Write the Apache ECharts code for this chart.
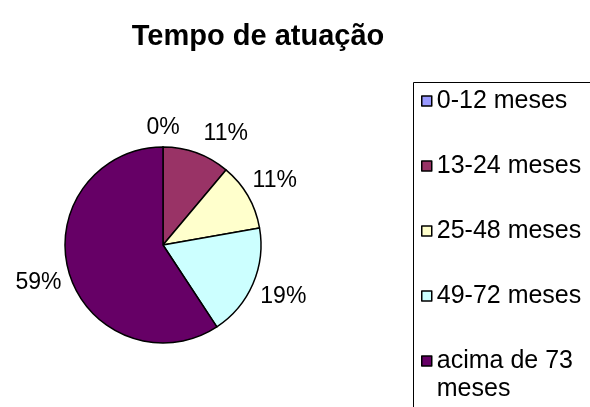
<!DOCTYPE html>
<html>
<head>
	<meta charset="utf-8">
	<title>Tempo de atuação</title>
	<script src="https://cdn.jsdelivr.net/npm/echarts@6/dist/echarts.min.js"></script>
	<style>
		html, body { margin: 0; padding: 0; background: #fff; }
	</style>
</head>
<body>
	<div id="main" style="width: 590px;height: 407px;"></div>
</body>
<script type="text/javascript">
	// dados
	var categorias = ['0-12 meses', '13-24 meses', '25-48 meses', '49-72 meses', 'acima de 73 meses'];
	var valores = [0, 3, 3, 5, 16];
	var cores = ['#9999FF', '#993366', '#FFFFCC', '#CCFFFF', '#660066'];

	var total = valores.reduce(function (a, b) { return a + b; }, 0);
	var dados = categorias.map(function (c, i) {
		return { name: c, value: valores[i], itemStyle: { color: cores[i] } };
	});

	var fonte = 'Liberation Sans, Arial, sans-serif';
	var centro = [163, 245];
	var raio = 98;

	// angulo medio de cada fatia (horario, a partir do topo)
	var angMedio = [];
	var acum = 0;
	valores.forEach(function (v) {
		angMedio.push((acum + v / 2) / total * 2 * Math.PI);
		acum += v;
	});

	// rotulos do lado de fora, estilo Excel
	var caixas = [];
	function posRotulo(params) {
		var i = params.dataIndex;
		var w = params.labelRect.width, h = params.labelRect.height;
		var ux = Math.sin(angMedio[i]), uy = -Math.cos(angMedio[i]);
		var t = Math.min(ux ? (w / 2) / Math.abs(ux) : 1e9, uy ? (h / 2) / Math.abs(uy) : 1e9);
		var d = raio + 8 + t;
		var cx = centro[0] + d * ux, cy = centro[1] + d * uy;
		var ant = caixas[i - 1];
		// empurra para a direita se encostar no rotulo anterior
		if (ant && Math.abs(cy - ant.y) < (h + ant.h) / 2 && Math.abs(cx - ant.x) < (w + ant.w) / 2 + 24) {
			cx = ant.x + (w + ant.w) / 2 + 24;
		}
		caixas[i] = { x: cx, y: cy, w: w, h: h };
		return { x: cx, y: cy, align: 'center', verticalAlign: 'middle' };
	}

	var myChart = echarts.init(document.getElementById('main'), null, { renderer: 'canvas' });

	var option = {
		animation: false,
		title: {
			text: 'Tempo de atuação',
			left: 253,
			top: 17,
			textAlign: 'center',
			textStyle: { fontFamily: fonte, fontSize: 29, fontWeight: 'bold', color: '#000' }
		},
		// caixa da legenda
		graphic: [{
			type: 'rect',
			shape: { x: 413.5, y: 82.5, width: 200, height: 340 },
			style: { fill: '#fff', stroke: '#000', lineWidth: 1 },
			z: 0
		}],
		legend: [{
			orient: 'vertical',
			left: 421,
			top: 87,
			padding: 0,
			itemWidth: 10,
			itemHeight: 10,
			itemGap: 37,
			icon: 'rect',
			itemStyle: { borderColor: '#000', borderWidth: 1.5 },
			textStyle: { fontFamily: fonte, fontSize: 25, lineHeight: 28, color: '#000' },
			data: categorias.slice(0, 4),
			selectedMode: false
		}, {
			orient: 'vertical',
			left: 421,
			top: 319,
			padding: 0,
			itemWidth: 10,
			itemHeight: 10,
			icon: 'rect',
			itemStyle: { borderColor: '#000', borderWidth: 1.5 },
			// linha vazia em cima para o quadrado ficar na primeira linha do texto
			formatter: function (n) { return ' \nacima de 73\nmeses'; },
			textStyle: { fontFamily: fonte, fontSize: 25, lineHeight: 28, color: '#000' },
			data: categorias.slice(4),
			selectedMode: false
		}],
		series: [{
			name: 'Tempo de atuação',
			type: 'pie',
			center: centro,
			radius: raio,
			startAngle: 90,
			clockwise: true,
			minAngle: 0,
			avoidLabelOverlap: false,
			stillShowZeroSum: true,
			itemStyle: { borderColor: '#000', borderWidth: 1.5 },
			label: {
				show: true,
				position: 'outside',
				fontFamily: fonte,
				fontSize: 23,
				color: '#000',
				formatter: function (p) { return Math.round(p.value / total * 100) + '%'; }
			},
			labelLine: { show: false, length: 10, length2: 0 },
			labelLayout: posRotulo,
			emphasis: { disabled: true },
			data: dados
		}]
	};
	myChart.setOption(option);
</script>
</html>
